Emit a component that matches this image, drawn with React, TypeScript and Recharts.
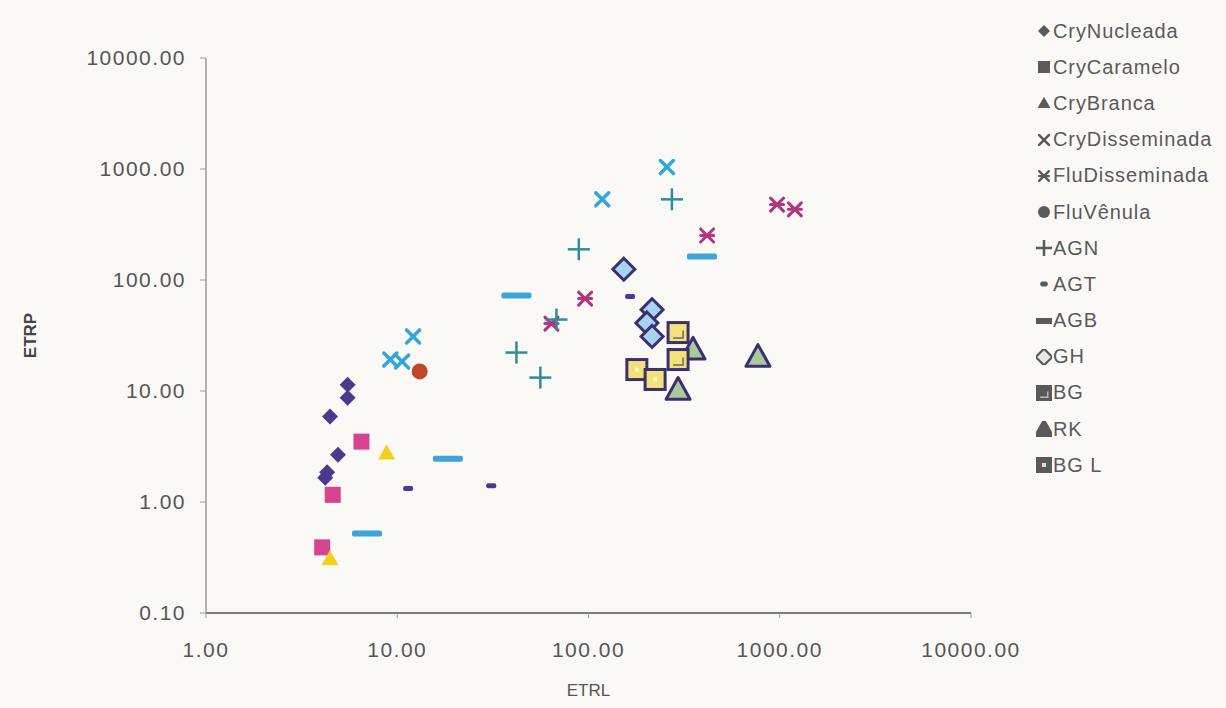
import React from 'react';
import { ScatterChart, Scatter, XAxis, YAxis, Legend, Label } from 'recharts';

type Pt = [number, number];

const X_TICKS = [1, 10, 100, 1000, 10000];
const Y_TICKS = [0.1, 1, 10, 100, 1000, 10000];

// values (ETRL, ETRP)
const CRY_NUCLEADA: Pt[] = [[5.5, 11.4], [5.5, 8.7], [4.45, 5.9], [4.9, 2.67], [4.3, 1.85], [4.2, 1.65]];
const CRY_CARAMELO: Pt[] = [[6.5, 3.5], [4.6, 1.16], [4.05, 0.39]];
const CRY_BRANCA: Pt[] = [[8.8, 2.78], [4.45, 0.31]];
const CRY_DISSEMINADA: Pt[] = [[12.1, 31], [9.2, 19.2], [10.6, 18.4], [257, 1040], [118, 533]];
const FLU_DISSEMINADA: Pt[] = [[417, 252], [96, 68], [64, 40.5], [968, 478], [1200, 433]];
const FLU_VENULA: Pt[] = [[13.1, 15]];
const AGN: Pt[] = [[273, 533], [89, 189], [68, 44], [42, 22.2], [56, 13.2]];
const AGT: Pt[] = [[11.4, 1.32], [31, 1.4], [165, 71]];
const AGB: Pt[] = [[18.4, 2.45], [6.95, 0.52], [42, 72.6], [392, 163]];
const GH: Pt[] = [[153, 125], [215, 54], [202, 41], [215, 31]];
const BG: Pt[] = [[294, 33.6], [294, 19.2]];
const RK: Pt[] = [[769, 20.4], [294, 10.3], [352, 23.7]];
const BG_L: Pt[] = [[179, 15.6], [223, 12.7]];

type Kind = 'diamond' | 'square' | 'triangle' | 'xcross' | 'asterisk' | 'circle' | 'plus' | 'shortdash' | 'longdash' | 'gh' | 'bg' | 'rk' | 'bgl';

const SERIES: { name: string; kind: Kind; color: string; data: Pt[] }[] = [
  { name: 'CryNucleada', kind: 'diamond', color: '#4a3a8c', data: CRY_NUCLEADA },
  { name: 'CryCaramelo', kind: 'square', color: '#d6448f', data: CRY_CARAMELO },
  { name: 'CryBranca', kind: 'triangle', color: '#f0d21c', data: CRY_BRANCA },
  { name: 'CryDisseminada', kind: 'xcross', color: '#2fa7da', data: CRY_DISSEMINADA },
  { name: 'FluDisseminada', kind: 'asterisk', color: '#b3347f', data: FLU_DISSEMINADA },
  { name: 'FluVênula', kind: 'circle', color: '#c0462d', data: FLU_VENULA },
  { name: 'AGN', kind: 'plus', color: '#2e8c9e', data: AGN },
  { name: 'AGT', kind: 'shortdash', color: '#4a3a8c', data: AGT },
  { name: 'AGB', kind: 'longdash', color: '#3ba4d8', data: AGB },
  { name: 'GH', kind: 'gh', color: '#a8d2f3', data: GH },
  { name: 'BG', kind: 'bg', color: '#f3e17a', data: BG },
  { name: 'RK', kind: 'rk', color: '#a9cb9c', data: RK },
  { name: 'BG L', kind: 'bgl', color: '#f3e17a', data: BG_L },
];

const OUTLINE = '#3b2f6e';
const GREY = '#5a5a5a';
const FONT = 'Liberation Sans, Arial, sans-serif';

function Marker({ kind, cx, cy, color, legend }: { kind: Kind; cx: number; cy: number; color: string; legend?: boolean }) {
  const c = legend ? GREY : color;
  const o = legend ? GREY : OUTLINE;
  const s = legend ? 0.75 : 1;
  switch (kind) {
    case 'diamond': {
      const r = 8 * s;
      return <polygon points={`${cx},${cy - r} ${cx + r},${cy} ${cx},${cy + r} ${cx - r},${cy}`} fill={c} />;
    }
    case 'square': {
      const r = 8 * s;
      return <rect x={cx - r} y={cy - r} width={2 * r} height={2 * r} fill={c} />;
    }
    case 'triangle': {
      const r = 8.5 * s;
      return <polygon points={`${cx},${cy - r} ${cx + r},${cy + r * 0.8} ${cx - r},${cy + r * 0.8}`} fill={c} />;
    }
    case 'xcross': {
      const r = 6.5 * s;
      return (
        <g stroke={c} strokeWidth={3.5 * s} strokeLinecap="round">
          <line x1={cx - r} y1={cy - r} x2={cx + r} y2={cy + r} />
          <line x1={cx - r} y1={cy + r} x2={cx + r} y2={cy - r} />
        </g>
      );
    }
    case 'asterisk': {
      const r = 6.5 * s;
      return (
        <g stroke={c} strokeWidth={3 * s} strokeLinecap="round">
          <line x1={cx - r} y1={cy - r} x2={cx + r} y2={cy + r} />
          <line x1={cx - r} y1={cy + r} x2={cx + r} y2={cy - r} />
          <line x1={cx - r} y1={cy} x2={cx + r} y2={cy} />
        </g>
      );
    }
    case 'circle':
      return <circle cx={cx} cy={cy} r={8 * s} fill={c} />;
    case 'plus': {
      const r = 11 * s;
      return (
        <g stroke={c} strokeWidth={2.5}>
          <line x1={cx - r} y1={cy} x2={cx + r} y2={cy} />
          <line x1={cx} y1={cy - r} x2={cx} y2={cy + r} />
        </g>
      );
    }
    case 'shortdash':
      return <rect x={cx - 5 * s} y={cy - 2.5} width={10 * s} height={5} rx={2} fill={c} />;
    case 'longdash':
      return <rect x={cx - 15 * s} y={cy - 3} width={30 * s} height={6} rx={2} fill={c} />;
    case 'gh': {
      const r = 11 * s;
      return (
        <polygon points={`${cx},${cy - r} ${cx + r},${cy} ${cx},${cy + r} ${cx - r},${cy}`}
          fill={legend ? '#e8e8e8' : color} stroke={o} strokeWidth={3 * s} />
      );
    }
    case 'bg':
    case 'bgl': {
      const r = 10 * s;
      return (
        <g>
          <rect x={cx - r} y={cy - r} width={2 * r} height={2 * r} fill={legend ? GREY : color} stroke={o} strokeWidth={3 * s} />
          {kind === 'bg' ? (
            <path d={`M${cx - r * 0.5},${cy + r * 0.55} H${cx + r * 0.5} V${cy - r * 0.2}`} stroke={legend ? '#ddd' : OUTLINE}
              strokeWidth={1.5} fill="none" opacity={0.7} />
          ) : (
            <rect x={cx - 2} y={cy - 2} width={4} height={4} fill={legend ? '#ddd' : '#fff6c0'} />
          )}
        </g>
      );
    }
    case 'rk': {
      const r = 12 * s;
      return (
        <polygon points={`${cx},${cy - r} ${cx + r},${cy + r * 0.8} ${cx - r},${cy + r * 0.8}`}
          fill={legend ? GREY : color} stroke={o} strokeWidth={3 * s} strokeLinejoin="round" />
      );
    }
  }
  return null;
}

const renderLegend = () => (
  <div style={{ fontFamily: FONT, fontSize: 20, color: GREY }}>
    {SERIES.map((s) => (
      <div key={s.name} style={{ display: 'flex', alignItems: 'center', height: 36.2, whiteSpace: 'nowrap' }}>
        <svg width={16} height={16} style={{ marginRight: 1 }}>
          <Marker kind={s.kind} cx={8} cy={8} color={s.color} legend />
        </svg>
        <span style={{ letterSpacing: 0.9 }}>{s.name}</span>
      </div>
    ))}
  </div>
);

const tickStyle = { fill: '#555', fontSize: 21, fontFamily: FONT, letterSpacing: 1.5 };
const fmt = (v: number) => v.toFixed(2);

export default function App() {
  // RK drawn under the BG squares, legend keeps the original order
  const order = [0, 1, 2, 3, 4, 5, 6, 7, 8, 9, 11, 10, 12];
  return (
    <div style={{ position: 'absolute', left: 0, top: 0, width: 1226, height: 708, background: '#fbf9f6' }}>
      <ScatterChart width={1226} height={708} margin={{ top: 58, right: 65, bottom: 0, left: 0 }}>
        <XAxis type="number" dataKey="x" scale="log" domain={[1, 10000]} ticks={X_TICKS} allowDataOverflow
          tickFormatter={fmt} tick={tickStyle} height={95} tickSize={5} tickMargin={24}
          axisLine={{ stroke: '#7a7a7a', strokeWidth: 2 }} tickLine={{ stroke: '#9a9a9a' }}>
          <Label value="ETRL" position="insideBottom" offset={12}
            style={{ fill: '#555', fontSize: 17, fontFamily: FONT }} />
        </XAxis>
        <YAxis type="number" dataKey="y" scale="log" domain={[0.1, 10000]} ticks={Y_TICKS} allowDataOverflow
          tickFormatter={fmt} tick={tickStyle} width={206} tickSize={6} tickMargin={14}
          axisLine={{ stroke: '#9a9a9a', strokeWidth: 1.5 }} tickLine={{ stroke: '#9a9a9a' }}>
          <Label value="ETRP" angle={-90} position="insideLeft" offset={30}
            style={{ fill: '#444', fontSize: 17, fontWeight: 'bold', fontFamily: FONT, textAnchor: 'middle' }} />
        </YAxis>
        <Legend layout="vertical" align="right" verticalAlign="top" content={renderLegend}
          wrapperStyle={{ left: 1036, top: 13, width: 190 }} />
        {order.map((i) => {
          const s = SERIES[i];
          return (
            <Scatter key={s.name} name={s.name} data={s.data.map(([x, y]) => ({ x, y }))} isAnimationActive={false}
              shape={(p: any) => <Marker kind={s.kind} cx={p.cx} cy={p.cy} color={s.color} />} />
          );
        })}
      </ScatterChart>
    </div>
  );
}
